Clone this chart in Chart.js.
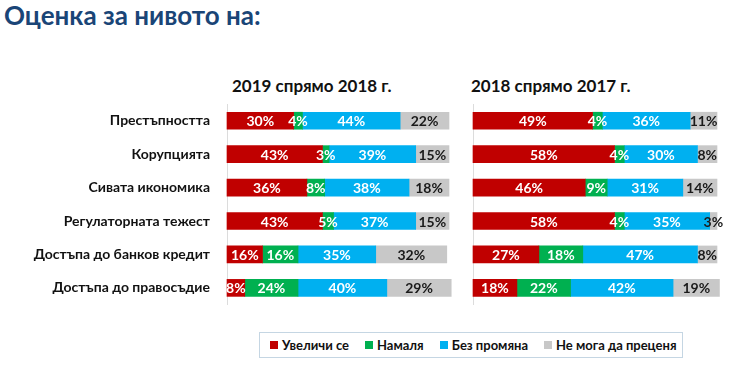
<!DOCTYPE html>
<html lang="bg">
<head>
    <meta charset="UTF-8">
    <title>Оценка за нивото на</title>
    <script src="https://cdn.jsdelivr.net/npm/chart.js"></script>
    <style>
        body, html {
            margin: 0;
            padding: 0;
            width: 740px;
            height: 374px;
            overflow: hidden;
            background: #fff;
            font-family: Lato, "Open Sans", sans-serif;
        }
        #mainTitle {
            position: absolute;
            left: 4px;
            top: -1px;
            font-size: 26px;
            font-weight: bold;
            color: #1a4577;
        }
        .subTitle {
            position: absolute;
            top: 75px;
            font-size: 17px;
            font-weight: bold;
            color: #111;
        }
        #leftWrap { position: absolute; left: 0; top: 70px; width: 460px; height: 252px; }
        #rightWrap { position: absolute; left: 460px; top: 70px; width: 280px; height: 252px; }
        #legend {
            position: absolute;
            left: 259px;
            top: 332px;
            width: 422px;
            height: 24px;
            border: 1px solid #c5d6e3;
            display: flex;
            align-items: center;
            font-size: 13px;
            font-weight: bold;
            color: #111;
            white-space: nowrap;
        }
        .item { display: flex; align-items: center; flex-shrink: 0; }
        .box { width: 8px; height: 8px; margin-right: 4px; }
    </style>
</head>
<body>
    <div id="mainTitle">Оценка за нивото на:</div>
    <div class="subTitle" style="left:232px;">2019 спрямо 2018 г.</div>
    <div class="subTitle" style="left:471px;">2018 спрямо 2017 г.</div>
    <div id="leftWrap"><canvas id="leftChart"></canvas></div>
    <div id="rightWrap"><canvas id="rightChart"></canvas></div>
    <div id="legend"></div>

    <script>
        const categories = ['Престъпността', 'Корупцията', 'Сивата икономика', 'Регулаторната тежест', 'Достъпа до банков кредит', 'Достъпа до правосъдие'];
        const seriesNames = ['Увеличи се', 'Намаля', 'Без промяна', 'Не мога да преценя'];
        const seriesColors = ['#c00000', '#00b050', '#00b0f0', '#c8c8c8'];
        const labelColors = ['#fff', '#fff', '#fff', '#1a1a1a'];

        // 2019 спрямо 2018
        const increase2019 = [30, 43, 36, 43, 16, 8];
        const decrease2019 = [4, 3, 8, 5, 16, 24];
        const noChange2019 = [44, 39, 38, 37, 35, 40];
        const cantSay2019 = [22, 15, 18, 15, 32, 29];

        // 2018 спрямо 2017
        const increase2018 = [49, 58, 46, 58, 27, 18];
        const decrease2018 = [4, 4, 9, 4, 18, 22];
        const noChange2018 = [36, 30, 31, 35, 47, 42];
        const cantSay2018 = [11, 8, 14, 3, 8, 19];

        const pctLabels = {
            id: 'pctLabels',
            afterDatasetsDraw(chart) {
                const ctx = chart.ctx;
                ctx.save();
                ctx.font = 'bold 14px Lato, "Open Sans", sans-serif';
                ctx.textAlign = 'center';
                ctx.textBaseline = 'middle';
                chart.data.datasets.forEach((ds, i) => {
                    chart.getDatasetMeta(i).data.forEach((bar, j) => {
                        const p = bar.getCenterPoint();
                        ctx.fillStyle = labelColors[i];
                        ctx.fillText(ds.data[j] + '%', p.x, p.y + 1);
                    });
                });
                ctx.restore();
            }
        };

        function makeChart(id, values, tickColor, axisWidth, padRight) {
            const ctx = document.getElementById(id).getContext('2d');
            return new Chart(ctx, {
                type: 'bar',
                data: {
                    labels: categories,
                    datasets: values.map((v, i) => ({
                        label: seriesNames[i],
                        data: v,
                        backgroundColor: seriesColors[i],
                        barThickness: 17,
                        borderWidth: 0,
                        clip: false
                    }))
                },
                options: {
                    indexAxis: 'y',
                    responsive: true,
                    maintainAspectRatio: false,
                    animation: false,
                    layout: { padding: { top: 34, bottom: 2, right: padRight, left: 0 } },
                    scales: {
                        x: {
                            stacked: true,
                            min: 0,
                            max: 100,
                            display: false
                        },
                        y: {
                            stacked: true,
                            grid: { display: false },
                            border: { display: true, color: '#dcdcdc' },
                            ticks: {
                                color: tickColor,
                                padding: 9,
                                font: { family: 'Lato', size: 14, weight: 'bold' }
                            },
                            afterFit(scale) { scale.width = axisWidth; }
                        }
                    },
                    plugins: {
                        legend: { display: false },
                        tooltip: { enabled: false }
                    }
                },
                plugins: [pctLabels]
            });
        }

        makeChart('leftChart', [increase2019, decrease2019, noChange2019, cantSay2019], '#111', 227, 11);
        makeChart('rightChart', [increase2018, decrease2018, noChange2018, cantSay2018], 'rgba(0,0,0,0)', 13, 23);

        const legend = document.getElementById('legend');
        const gaps = [10, 16, 16, 16];
        seriesNames.forEach((name, i) => {
            const item = document.createElement('div');
            item.className = 'item';
            item.style.marginLeft = gaps[i] + 'px';
            item.innerHTML = '<span class="box" style="background:' + seriesColors[i] + '"></span>' + name;
            legend.appendChild(item);
        });
    </script>
</body>
</html>
